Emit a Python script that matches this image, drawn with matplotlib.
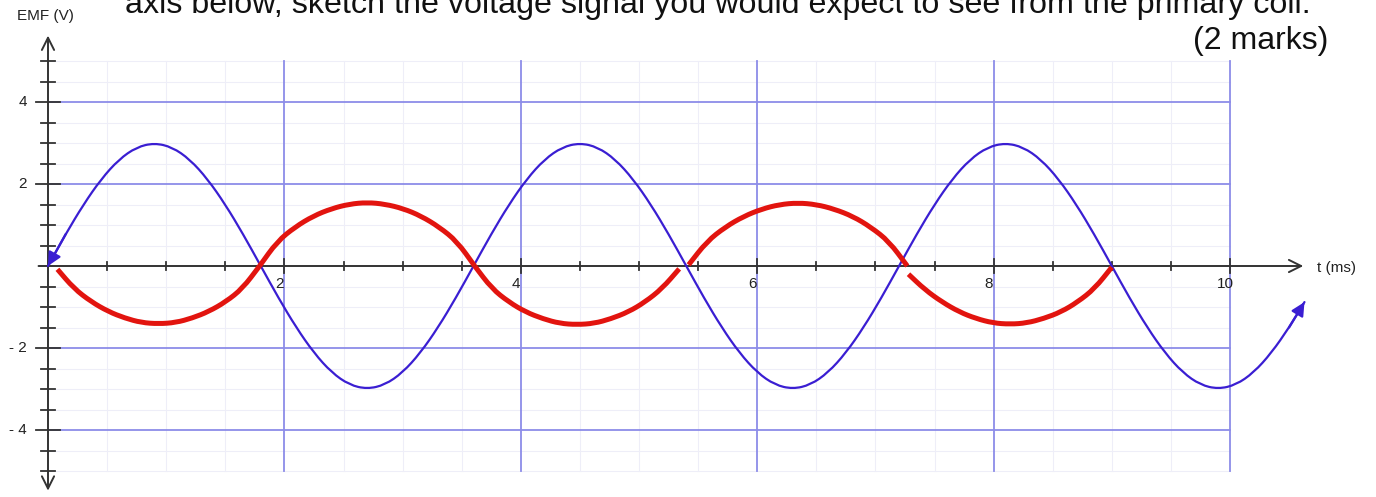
import numpy as np
import matplotlib.pyplot as plt
from matplotlib.path import Path
from matplotlib.patches import PathPatch

plt.rcParams['font.family'] = ['Liberation Sans', 'DejaVu Sans']

# primary coil signal (blue), read every 0.15 ms
blue_t = [round(0.15 * k, 2) for k in range(71)] + [10.63]
blue_cycle = [0, 0.78, 1.50, 2.12, 2.60, 2.90, 3.00, 2.90, 2.60, 2.12, 1.50, 0.78,
              0, -0.78, -1.50, -2.12, -2.60, -2.90, -3.00, -2.90, -2.60, -2.12, -1.50, -0.78]
blue_v = (blue_cycle * 3)[:71] + [-0.88]

# sketched answer (red), five separate arcs
red_arcs_t = [
    [0.08, 0.22, 0.365, 0.51, 0.65, 0.79, 0.935, 1.08, 1.22, 1.36, 1.505, 1.645, 1.79],
    [1.79, 1.94, 2.09, 2.245, 2.40, 2.55, 2.70, 2.85, 3.005, 3.155, 3.31, 3.46, 3.61],
    [3.61, 3.755, 3.90, 4.04, 4.19, 4.33, 4.475, 4.62, 4.76, 4.91, 5.05, 5.195, 5.34],
    [5.42, 5.575, 5.73, 5.885, 6.04, 6.19, 6.345, 6.50, 6.65, 6.81, 6.96, 7.115, 7.27],
    [7.28, 7.42, 7.565, 7.71, 7.85, 7.995, 8.14, 8.28, 8.425, 8.57, 8.71, 8.855, 9.0],
]
red_arcs_v = [
    [-0.08, -0.55, -0.87, -1.11, -1.27, -1.38, -1.41, -1.38, -1.27, -1.11, -0.87, -0.55, 0.0],
    [0.0, 0.60, 0.95, 1.22, 1.40, 1.51, 1.55, 1.51, 1.40, 1.22, 0.95, 0.60, 0.0],
    [0.0, -0.55, -0.88, -1.12, -1.29, -1.40, -1.43, -1.40, -1.29, -1.12, -0.88, -0.55, -0.07],
    [0.03, 0.60, 0.95, 1.21, 1.39, 1.50, 1.54, 1.50, 1.39, 1.21, 0.95, 0.60, 0.0],
    [-0.20, -0.58, -0.88, -1.12, -1.28, -1.39, -1.42, -1.39, -1.28, -1.12, -0.88, -0.55, -0.03],
]

x_labels = ['2', '4', '6', '8', '10']
y_labels = {4: '4', 2: '2', -2: '- 2', -4: '- 4'}


def smooth_path(xs, ys):
    # quadratic curve through midpoints, read points used as control points
    pts = list(zip(xs, ys))
    verts = [pts[0]]
    codes = [Path.MOVETO]
    mid = ((pts[0][0] + pts[1][0]) / 2, (pts[0][1] + pts[1][1]) / 2)
    verts.append(mid)
    codes.append(Path.LINETO)
    for i in range(1, len(pts) - 1):
        nxt = ((pts[i][0] + pts[i + 1][0]) / 2, (pts[i][1] + pts[i + 1][1]) / 2)
        verts += [pts[i], nxt]
        codes += [Path.CURVE3, Path.CURVE3]
    verts.append(pts[-1])
    codes.append(Path.LINETO)
    return Path(verts, codes)


fig = plt.figure(figsize=(13.76, 4.97), dpi=100)
ax = fig.add_axes([0, 0, 1, 1])
ax.set_xlim(-48 / 118.2, (1376 - 48) / 118.2)
ax.set_ylim((266 - 497) / 41, 266 / 41)
ax.axis('off')

axis_col = '#333333'
major_col = '#8c8ce8'
minor_col = '#eeeef8'

# grid
for gx in np.arange(0.5, 10.01, 0.5):
    if gx % 2 == 0:
        continue
    ax.plot([gx, gx], [-5, 5], color=minor_col, lw=0.8, zorder=1)
for gy in np.arange(-5, 5.01, 0.5):
    if gy % 2 == 0:
        continue
    ax.plot([0, 10], [gy, gy], color=minor_col, lw=0.8, zorder=1)
for gx in [2, 4, 6, 8, 10]:
    ax.plot([gx, gx], [-5, 5], color=major_col, lw=1.3, zorder=2)
for gy in [-4, -2, 2, 4]:
    ax.plot([0, 10], [gy, gy], color=major_col, lw=1.3, zorder=2)

# axes with arrows
ax.annotate('', xy=(0, 5.62), xytext=(0, -5.48),
            arrowprops=dict(arrowstyle='<->', color=axis_col, lw=1.4,
                            mutation_scale=22, shrinkA=0, shrinkB=0), zorder=3)
ax.annotate('', xy=(10.62, 0), xytext=(-0.08, 0),
            arrowprops=dict(arrowstyle='->', color=axis_col, lw=1.4,
                            mutation_scale=22, shrinkA=0, shrinkB=0), zorder=3)

# ticks
for tx in np.arange(0.5, 10.01, 0.5):
    h = 0.17 if tx % 2 == 0 else 0.1
    ax.plot([tx, tx], [-h, h], color=axis_col, lw=1.3, zorder=3)
for ty in np.arange(-5, 5.01, 0.5):
    if ty == 0:
        continue
    w = 0.1 if ty % 2 == 0 else 0.055
    ax.plot([-w, w], [ty, ty], color=axis_col, lw=1.3, zorder=3)

for i, lab in enumerate(x_labels):
    ax.text(2 * (i + 1) - 0.04, -0.27, lab, ha='center', va='top',
            fontsize=11, color='#222222', zorder=4)
for yv, lab in y_labels.items():
    ax.text(-0.18, yv, lab, ha='right', va='center', fontsize=11,
            color='#222222', zorder=4)

ax.text(-0.262, 6.1, 'EMF (V)', ha='left', va='center', fontsize=11, color='#222222')
ax.text(10.74, -0.05, 't (ms)', ha='left', va='center', fontsize=11, color='#222222')

# curves
blue_col = '#3a1ed2'
ax.add_patch(PathPatch(smooth_path(blue_t, blue_v), fill=False, edgecolor=blue_col,
                       lw=1.6, zorder=5, capstyle='round', joinstyle='round'))
ax.annotate('', xy=(blue_t[0], blue_v[0]), xytext=(blue_t[1], blue_v[1]),
            arrowprops=dict(arrowstyle='-|>', color=blue_col, lw=1.6,
                            mutation_scale=20, shrinkA=0, shrinkB=0), zorder=5)
ax.annotate('', xy=(blue_t[-1], blue_v[-1]), xytext=(blue_t[-2], blue_v[-2]),
            arrowprops=dict(arrowstyle='-|>', color=blue_col, lw=1.6,
                            mutation_scale=20, shrinkA=0, shrinkB=0), zorder=5)

red_col = '#e2140f'
for rt, rv in zip(red_arcs_t, red_arcs_v):
    ax.add_patch(PathPatch(smooth_path(rt, rv), fill=False, edgecolor=red_col,
                           lw=3.6, zorder=6, capstyle='butt', joinstyle='round'))

# question text
ax.text((125 - 48) / 118.2, (266 - 13) / 41,
        'axis below, sketch the voltage signal you would expect to see from the primary coil.',
        ha='left', va='baseline', fontsize=23.2, color='#111111')
ax.text(10.83, 5.5, '(2 marks)', ha='right', va='center', fontsize=23, color='#111111')

fig.savefig('out.png', dpi=100)
